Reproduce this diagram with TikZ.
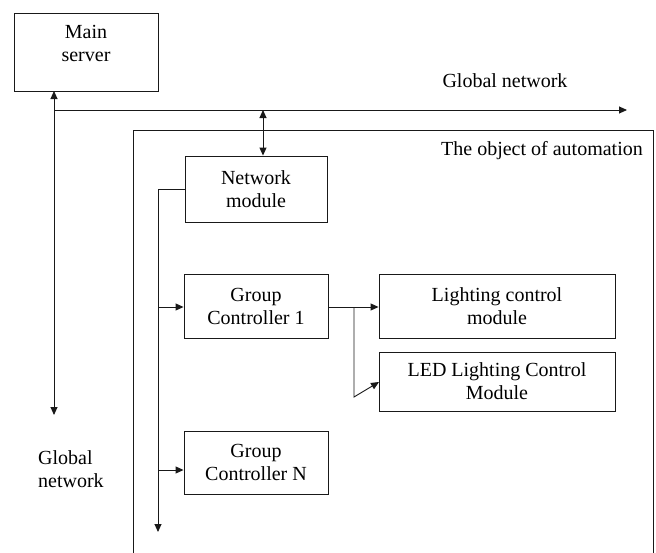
\documentclass[tikz,border=0pt]{standalone}
\usepackage{fontspec}
\setmainfont{Liberation Serif}
\usetikzlibrary{arrows.meta}
\begin{document}
\begin{tikzpicture}[x=1pt,y=-1pt,
  line/.style={draw=black!90,line width=0.9pt},
  tip/.style={-{Triangle[length=8pt,width=7pt]}},
  tips/.style={{Triangle[length=8pt,width=7pt]}-{Triangle[length=8pt,width=7pt]}},
  box/.style={draw=black!90,line width=0.9pt,rectangle,inner sep=0pt,align=center,
    font=\fontsize{20pt}{23pt}\selectfont},
  lbl/.style={inner sep=0pt,font=\fontsize{20pt}{23pt}\selectfont}]
\useasboundingbox (0,0) rectangle (656,552);
% outer object box (open at bottom)
\draw[line] (133,560) -- (133,130) -- (653,130) -- (653,560);
% boxes
\node[box,minimum width=144pt,minimum height=78pt] (ms) at (86,52) {Main\\server\rule[-18pt]{0pt}{0pt}};
\node[box,minimum width=142pt,minimum height=66pt] (nm) at (256,189) {Network\\module};
\node[box,minimum width=144pt,minimum height=64pt] (gc1) at (256,306) {Group\\Controller 1};
\node[box,minimum width=144pt,minimum height=63pt] (gcn) at (256,462.5) {Group\\Controller N};
\node[box,minimum width=236pt,minimum height=64pt] (lcm) at (497,306) {Lighting control\\module};
\node[box,minimum width=236pt,minimum height=59pt] (led) at (497,381.5) {LED Lighting Control\\Module};
% labels
\node[lbl,anchor=base] (gnt) at (505,87) {Global network};
\node[lbl,anchor=base east] (obj) at (643,155) {The object of automation};
\node[lbl,align=left,anchor=north west] (gnl) at (38,450) {Global\\network};
% coordinates
\coordinate (vtop) at (54,91);
\coordinate (vbot) at (54,415);
\coordinate (hl) at (54,110);
\coordinate (hr) at (627,110);
\coordinate (nmtap) at (263,110);
\coordinate (bustop) at (158,189);
\coordinate (busbot) at (158,532);
\coordinate (tap1) at (158,307);
\coordinate (tapn) at (158,470);
\coordinate (br) at (354,307);
\coordinate (brlow) at (354,397);
\coordinate (ledin) at (379,382);
% connectors
\draw[line,tips] (vtop) -- (vbot);
\draw[line,tip] (hl) -- (hr);
\draw[line,tips] (nmtap) -- (nmtap |- nm.north);
\draw[line,tip] (nm.west) -- (bustop) -- (busbot);
\draw[line,tip] (tap1) -- (tap1 -| gc1.west);
\draw[line,tip] (tapn) -- (tapn -| gcn.west);
\draw[line,tip] (gc1.east |- br) -- (br -| lcm.west);
\draw[line,tip] (br) -- (brlow) -- (ledin);
\end{tikzpicture}
\end{document}
